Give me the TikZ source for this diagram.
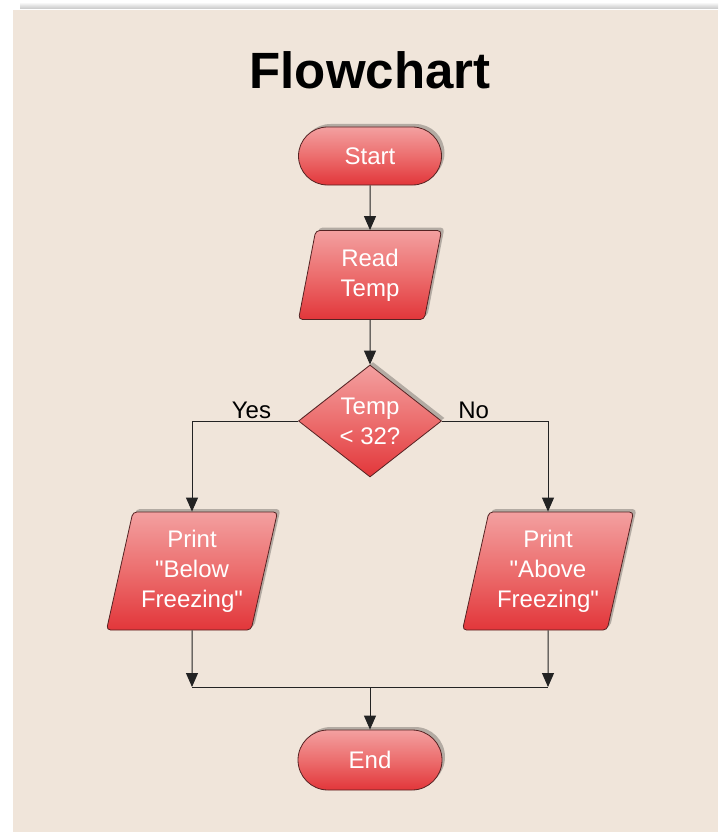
\documentclass[tikz,border=0pt]{standalone}
\usepackage{fontspec}
\setmainfont{Liberation Sans}
\usetikzlibrary{shapes.geometric, shapes.misc, arrows.meta, positioning, shadows}

\definecolor{panel}{RGB}{240,229,218}
\definecolor{boxtop}{RGB}{243,160,160}
\definecolor{boxmid}{RGB}{236,110,110}
\definecolor{boxbot}{RGB}{226,54,58}
\definecolor{boxline}{RGB}{85,35,35}
\definecolor{wire}{RGB}{35,35,35}

\begin{document}
\begin{tikzpicture}[x=1pt, y=-1pt, every node/.style={font=\fontsize{24}{30}\selectfont},
  box/.style={draw=boxline, line width=0.8pt, top color=boxtop, bottom color=boxbot, middle color=boxmid, text=white, align=center, inner sep=2pt,
    drop shadow={shadow xshift=3pt, shadow yshift=3pt, opacity=0.25, fill=black}},
  terminal/.style={box, rounded rectangle, minimum width=147, minimum height=58},
  io/.style={box, trapezium, trapezium left angle=73, trapezium right angle=107, trapezium stretches body=true, rounded corners=4pt},
  decision/.style={box, diamond, minimum width=143, minimum height=112, inner sep=0pt},
  arrow/.style={-{Triangle[length=14pt,width=12pt]}, line width=1pt, draw=wire},
  link/.style={line width=1pt, draw=wire}]
% page and panel
\useasboundingbox (0,0) rectangle (718,832);
\fill[white] (0,0) rectangle (718,832);
\shade[top color=white, bottom color=gray!45] (20,2) rectangle (718,9);
\fill[panel] (13,10) rectangle (718,832);

\node (title) at (370,70) [font=\bfseries\fontsize{51}{60}\selectfont] {Flowchart};

\node (start) at (370,156) [terminal] {Start};
\node (read) at (370,275) [io, minimum width=143, minimum height=89] {Read\\Temp};
\node (test) at (370,421) [decision] {Temp\\< 32?};
\node (below) at (192,571) [io, minimum width=171, minimum height=118] {Print\\\textquotedbl Below\\Freezing\textquotedbl};
\node (above) at (548,571) [io, minimum width=171, minimum height=118] {Print\\\textquotedbl Above\\Freezing\textquotedbl};
\node (end) at (370,760) [terminal, minimum width=148, minimum height=60] {End};

\coordinate (joinl) at (192,687);
\coordinate (joinr) at (548,687);
\coordinate (joinm) at (370,687);

\draw[arrow] (start) -- (read);
\draw[arrow] (read) -- (test);
\draw[arrow] (test.west) -| node[pos=0.22, above, inner sep=2pt] {Yes} (below.north);
\draw[arrow] (test.east) -| node[pos=0.15, above, inner sep=2pt] {No} (above.north);
\draw[arrow] (below.south) -- (joinl);
\draw[arrow] (above.south) -- (joinr);
\draw[link] (joinl) -- (joinr);
\draw[arrow] (joinm) -- (end);
\end{tikzpicture}
\end{document}
